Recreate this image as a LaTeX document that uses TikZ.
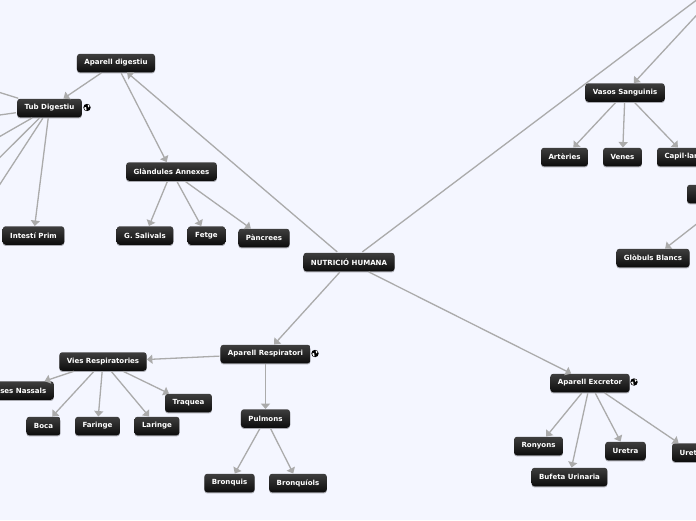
\documentclass[tikz,border=0pt]{standalone}
\usepackage{fontspec}
\setsansfont{DejaVu Sans}
\usepackage{xcolor}
\usepackage{tikz}
\usetikzlibrary{arrows.meta,shadows}
\definecolor{pagebg}{HTML}{F4F6FF}
\definecolor{linkgray}{HTML}{ABABAB}
\definecolor{boxtop}{HTML}{3E3E3E}
\definecolor{boxbottom}{HTML}{0C0C0C}

\begin{document}
\begin{tikzpicture}[
  x=1pt, y=-1pt,
  topic/.style={rounded corners=3pt, minimum height=18.5pt, inner xsep=7.5pt, inner ysep=0pt, align=center, yshift=-0.5pt,
    top color=boxtop, bottom color=boxbottom, text=white, font=\fontsize{7.05}{9}\selectfont\sffamily\bfseries,
    drop shadow={shadow xshift=0pt, shadow yshift=-1.2pt, opacity=0.3, fill=black}},
  link/.style={-{Triangle[length=5.5pt,width=9pt]}, draw=linkgray, fill=linkgray, line width=1.3pt, shorten <=1pt},
  globe/.pic={
    \fill[black] (0,0) circle (3.7);
    \fill[white] (-2.9,0.2) -- (-0.9,-0.6) -- (-0.4,2.9) -- (-1.9,2.2) -- cycle;
    \fill[white] (0.6,-3) -- (2.8,-1.6) -- (1.2,0) -- cycle;
  }
]
\useasboundingbox (0,0) rectangle (696,520);
\clip (0,0) rectangle (696,520);
\fill[pagebg] (0,0) rectangle (696,520);

\node[topic] (nutricio) at (349,261.5) {NUTRICIÓ HUMANA};

% digestiu
\node[topic] (digestiu) at (116,62.5) {Aparell digestiu};
\node[topic] (tub) at (49.5,107.5) {Tub Digestiu};
\node[topic] (annexes) at (171.5,171) {Glàndules Annexes};
\node[topic] (prim) at (33.5,235) {Intestí Prim};
\node[topic] (salivals) at (145,235) {G. Salivals};
\node[topic] (fetge) at (206.5,235) {Fetge};
\node[topic] (pancrees) at (264,237.5) {Pàncrees};
\coordinate (tubA) at (-50,77);
\coordinate (tubB) at (-50,122);
\coordinate (tubC) at (-50,165);
\coordinate (tubD) at (-50,207);
\coordinate (tubE) at (-50,261);

% circulatori
\coordinate (circulatori) at (743,-35);
\node[topic] (vasos) at (625,92) {Vasos Sanguinis};
\node[topic] (arteries) at (564.5,156.5) {Artèries};
\node[topic] (venes) at (622.5,156.5) {Venes};
\node[topic, text width=45pt, minimum width=60pt, align=left] (capil) at (687,156.5) {Capil·lars};
\node[topic, minimum width=96pt] (sang) at (735,193.5) {};
\node[topic] (globuls) at (653,257.5) {Glòbuls Blancs};

% respiratori
\node[topic] (respiratori) at (265.5,353.5) {Aparell Respiratori};
\node[topic] (vies) at (103,361) {Vies Respiratories};
\node[topic] (nassals) at (16.5,390) {Fosses Nassals};
\node[topic] (boca) at (43.5,425.5) {Boca};
\node[topic] (faringe) at (97.5,425.5) {Faringe};
\node[topic] (laringe) at (157,425.5) {Laringe};
\node[topic] (traquea) at (188.5,402.5) {Traquea};
\node[topic] (pulmons) at (265.5,418) {Pulmons};
\node[topic] (bronquis) at (229.5,482.5) {Bronquis};
\node[topic] (bronquiols) at (298,482.5) {Bronquíols};

% excretor
\node[topic] (excretor) at (590,382.5) {Aparell Excretor};
\node[topic] (ronyons) at (538.5,445.5) {Ronyons};
\node[topic] (uretra) at (625.5,450.5) {Uretra};
\node[topic] (bufeta) at (569.5,476.5) {Bufeta Urinaria};
\node[topic, minimum width=41pt] (ureter) at (692.5,452) {Ureter};

\draw[link] (nutricio) -- (digestiu);
\draw[link] (nutricio) -- (circulatori);
\draw[link] (nutricio) -- (respiratori);
\draw[link] (nutricio) -- (excretor);

\draw[link] (digestiu) -- (tub);
\draw[link] (digestiu) -- (annexes);
\draw[link] (tub) -- (tubA);
\draw[link] (tub) -- (tubB);
\draw[link] (tub) -- (tubC);
\draw[link] (tub) -- (tubD);
\draw[link] (tub) -- (tubE);
\draw[link] (tub) -- (prim);
\draw[link] (annexes) -- (salivals);
\draw[link] (annexes) -- (fetge);
\draw[link] (annexes) -- (pancrees);

\draw[link] (circulatori) -- (vasos);
\draw[link] (vasos) -- (arteries);
\draw[link] (vasos) -- (venes);
\draw[link] (vasos) -- (capil);
\draw[link] (sang) -- (globuls);

\draw[link] (respiratori) -- (vies);
\draw[link] (respiratori) -- (pulmons);
\draw[link] (vies) -- (nassals);
\draw[link] (vies) -- (boca);
\draw[link] (vies) -- (faringe);
\draw[link] (vies) -- (laringe);
\draw[link] (vies) -- (traquea);
\draw[link] (pulmons) -- (bronquis);
\draw[link] (pulmons) -- (bronquiols);

\draw[link] (excretor) -- (ronyons);
\draw[link] (excretor) -- (bufeta);
\draw[link] (excretor) -- (uretra);
\draw[link] (excretor) -- (ureter);

\pic at (87,107.5) {globe};
\pic at (315,353.5) {globe};
\pic at (634,382) {globe};

\end{tikzpicture}
\end{document}
